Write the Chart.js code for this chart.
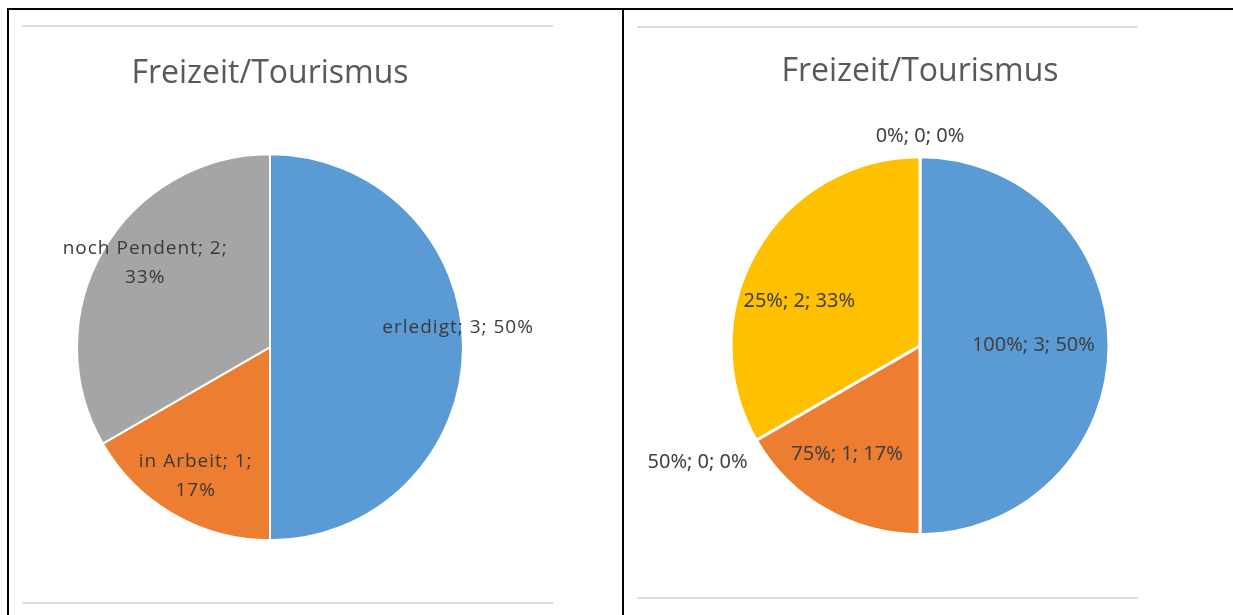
<!DOCTYPE html>
<html>
<head>
<meta charset="utf-8">
<script src="https://cdn.jsdelivr.net/npm/chart.js@4.4.1/dist/chart.umd.min.js"></script>
<style>
  body { margin:0; background:#fff; width:1233px; height:615px; position:relative; overflow:hidden; }
  .bar { position:absolute; background:#000; }
  .rule { position:absolute; height:2px; background:#dcdcdc; }
  .box { position:absolute; }
</style>
</head>
<body>
<div class="bar" style="left:7px;top:8px;width:1226px;height:2px"></div>
<div class="bar" style="left:7px;top:8px;width:2px;height:607px"></div>
<div class="bar" style="left:622px;top:8px;width:2px;height:607px"></div>
<div class="rule" style="left:22px;top:25px;width:531px"></div>
<div class="rule" style="left:22px;top:602px;width:531px"></div>
<div class="rule" style="left:637px;top:26px;width:501px"></div>
<div class="rule" style="left:637px;top:597px;width:501px"></div>

<div class="box" style="left:10px;top:10px;width:612px;height:605px"><canvas id="left"></canvas></div>
<div class="box" style="left:625px;top:10px;width:608px;height:605px"><canvas id="right"></canvas></div>

<script>
// left chart: status of tasks
let statusLabels = ['erledigt', 'in Arbeit', 'noch Pendent'];
let statusValues = [3, 1, 2];
let statusColors = ['#5b9bd5', '#ed7d31', '#a5a5a5'];

// right chart: progress categories
let progressLabels = ['100%', '75%', '50%', '25%', '0%'];
let progressValues = [3, 1, 0, 2, 0];
let progressColors = ['#5b9bd5', '#ed7d31', '#a5a5a5', '#ffc000', '#4472c4'];

let chartTitle = 'Freizeit/Tourismus';

function pct(values, i){
  let total = values.reduce((a, b) => a + b, 0);
  return Math.round(values[i] / total * 100) + '%';
}

// draws "category; value; percent" next to each slice
let sliceLabels = {
  id: 'sliceLabels',
  afterDatasetsDraw(chart, args, opts) {
    let ctx = chart.ctx;
    let meta = chart.getDatasetMeta(0);
    ctx.save();
    ctx.font = opts.font;
    ctx.fillStyle = opts.color;
    ctx.textBaseline = 'middle';
    if ('letterSpacing' in ctx) ctx.letterSpacing = opts.spacing || '0px';
    meta.data.forEach((arc, i) => {
      let p = arc.getProps(['x', 'y', 'startAngle', 'endAngle', 'outerRadius'], true);
      let place = opts.place[i];
      let a = (p.startAngle + p.endAngle) / 2 + place.shift * Math.PI / 180;
      let d = p.outerRadius * place.dist;
      let cx = p.x + Math.cos(a) * d;
      let cy = p.y + Math.sin(a) * d;
      let align = 'center';
      if (place.outside) {
        if (Math.cos(a) < -0.3) align = 'right';
        else if (Math.cos(a) > 0.3) align = 'left';
      }
      ctx.textAlign = align;
      let lines = opts.lines(i);
      let y0 = cy - (lines.length - 1) * opts.lineHeight / 2;
      lines.forEach((t, k) => ctx.fillText(t, cx, y0 + k * opts.lineHeight));
    });
    ctx.restore();
  }
};

function pieOptions(cfg){
  return {
    responsive: true,
    maintainAspectRatio: false,
    animation: false,
    layout: { padding: cfg.padding },
    plugins: {
      legend: { display: false },
      tooltip: { enabled: false },
      title: {
        display: true,
        text: chartTitle,
        color: '#595959',
        font: { family: cfg.titleFont, size: cfg.titleSize, weight: 'normal' },
        padding: cfg.titlePadding
      },
      sliceLabels: cfg.labels
    }
  };
}

new Chart('left', {
  type: 'pie',
  data: {
    labels: statusLabels,
    datasets: [{
      data: statusValues,
      backgroundColor: statusColors,
      borderColor: '#ffffff',
      borderWidth: 2,
      hoverOffset: 0,
      radius: 193
    }]
  },
  options: pieOptions({
    padding: { left: 67, right: 159, top: 0, bottom: 75 },
    titleFont: 'Open Sans',
    titleSize: 32,
    titlePadding: { top: 45, bottom: 61 },
    labels: {
      font: '19px "Open Sans"',
      spacing: '1px',
      color: '#3a3a3a',
      lineHeight: 29,
      place: [
        { dist: 0.98, shift: -6 },
        { dist: 0.77, shift: 0 },
        { dist: 0.78, shift: 4 }
      ],
      lines: i => {
        if (i === 0) return [statusLabels[i] + '; ' + statusValues[i] + '; ' + pct(statusValues, i)];
        return [statusLabels[i] + '; ' + statusValues[i] + ';', pct(statusValues, i)];
      }
    }
  }),
  plugins: [sliceLabels]
});

new Chart('right', {
  type: 'pie',
  data: {
    labels: progressLabels,
    datasets: [{
      data: progressValues,
      backgroundColor: progressColors,
      borderColor: '#ffffff',
      borderWidth: 3,
      hoverOffset: 0,
      radius: 189
    }]
  },
  options: pieOptions({
    padding: { left: 106, right: 124, top: 0, bottom: 80 },
    titleFont: 'Open Sans',
    titleSize: 32,
    titlePadding: { top: 43, bottom: 65 },
    labels: {
      font: '20px "Noto Sans"',
      spacing: '0px',
      color: '#404040',
      lineHeight: 26,
      place: progressValues.map((v, i) => [
        { dist: 0.60, shift: 0 },
        { dist: 0.69, shift: 4 },
        { dist: 1.10, shift: -4, outside: true },
        { dist: 0.68, shift: -10 },
        { dist: 1.11, shift: 0, outside: true }
      ][i]),
      lines: i => [progressLabels[i] + '; ' + progressValues[i] + '; ' + pct(progressValues, i)]
    }
  }),
  plugins: [sliceLabels]
});
</script>
</body>
</html>
